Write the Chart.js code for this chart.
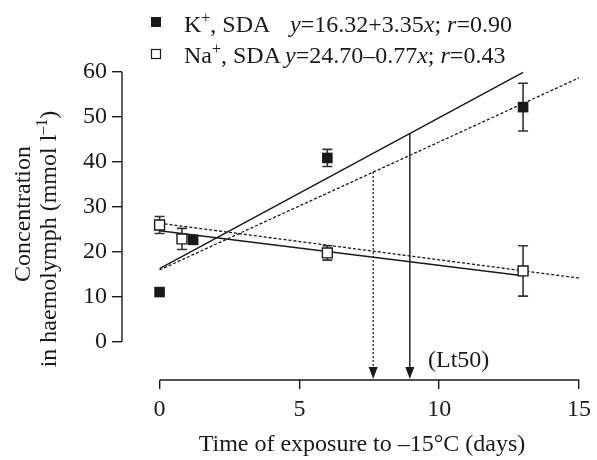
<!DOCTYPE html>
<html>
<head>
<meta charset="utf-8">
<script src="https://cdn.jsdelivr.net/npm/chart.js@4.4.0/dist/chart.umd.min.js"></script>
<style>
  html, body { margin: 0; padding: 0; background: #fff; }
  #wrap { width: 597px; height: 460px; position: relative; }
</style>
</head>
<body>
<div id="wrap"><canvas id="ionChart"></canvas></div>
<script>
// data
const kDays = [0, 1.2, 6, 13];
const kMean = [11.1, 22.7, 40.9, 52.2];
const kErr = [0, 0, 1.9, 5.3];

const naDays = [0, 0.8, 6, 13];
const naMean = [26.0, 22.9, 19.8, 15.8];
const naErr = [1.9, 2.35, 1.6, 5.6];

// regression lines (end points)
const kFitX = [0, 13];
const kFitY = [16.3, 59.9];
const kDashX = [0, 15];
const kDashY = [16.0, 58.7];
const naFitX = [0, 13];
const naFitY = [24.7, 14.7];
const naDashX = [0, 15];
const naDashY = [26.4, 14.2];

// Lt50 arrows: day, where it leaves the fit line, dashed?
const arrowDays = [7.64, 8.95];
const arrowTops = [37.8, 46.3];
const arrowDashed = [true, false];

const xTicks = [0, 5, 10, 15];
const yTicks = [0, 10, 20, 30, 40, 50, 60];

const FONT = '"Liberation Serif", "Times New Roman", serif';
const FS = 24;
const SUP = 16;
const INK = '#1a1a1a';

function pts(xs, ys) {
    return xs.map((x, i) => ({ x: x, y: ys[i] }));
}

// text with superscripts / italics
function richWidth(ctx, parts) {
    let w = 0;
    parts.forEach(p => {
        ctx.font = (p.it ? 'italic ' : '') + (p.sup ? SUP : FS) + 'px ' + FONT;
        w += ctx.measureText(p.t).width;
    });
    return w;
}
function drawRich(ctx, x, y, parts) {
    parts.forEach(p => {
        ctx.font = (p.it ? 'italic ' : '') + (p.sup ? SUP : FS) + 'px ' + FONT;
        ctx.fillText(p.t, x, p.sup ? y - 9 : y);
        x += ctx.measureText(p.t).width;
    });
}

const decorPlugin = {
    id: 'decor',
    beforeDatasetsDraw(chart) {
        const ctx = chart.ctx, xs = chart.scales.x, ys = chart.scales.y;
        ctx.save();
        ctx.strokeStyle = '#333';
        ctx.lineWidth = 1.6;
        // error bars
        [[kDays, kMean, kErr], [naDays, naMean, naErr]].forEach(set => {
            set[0].forEach((d, i) => {
                if (!set[2][i]) return;
                const px = xs.getPixelForValue(d);
                const top = ys.getPixelForValue(set[1][i] + set[2][i]);
                const bot = ys.getPixelForValue(set[1][i] - set[2][i]);
                ctx.beginPath();
                ctx.moveTo(px, top); ctx.lineTo(px, bot);
                ctx.moveTo(px - 5, top); ctx.lineTo(px + 5, top);
                ctx.moveTo(px - 5, bot); ctx.lineTo(px + 5, bot);
                ctx.stroke();
            });
        });
        ctx.restore();
    },
    afterDraw(chart) {
        const ctx = chart.ctx, xs = chart.scales.x, ys = chart.scales.y;
        const area = chart.chartArea;
        ctx.save();
        ctx.strokeStyle = INK;
        ctx.fillStyle = INK;
        ctx.lineWidth = 1.4;

        // detached axis lines
        ctx.beginPath();
        ctx.moveTo(xs.getPixelForValue(xTicks[0]), area.bottom);
        ctx.lineTo(xs.getPixelForValue(xTicks[xTicks.length - 1]), area.bottom);
        ctx.moveTo(area.left, ys.getPixelForValue(yTicks[0]));
        ctx.lineTo(area.left, ys.getPixelForValue(yTicks[yTicks.length - 1]));
        ctx.stroke();

        // Lt50 arrows
        arrowDays.forEach((d, i) => {
            const px = xs.getPixelForValue(d);
            const top = ys.getPixelForValue(arrowTops[i]);
            const tip = area.bottom - 1;
            ctx.save();
            ctx.lineWidth = arrowDashed[i] ? 1.2 : 1.4;
            if (arrowDashed[i]) ctx.setLineDash([2, 2]);
            ctx.beginPath();
            ctx.moveTo(px, top);
            ctx.lineTo(px, tip - 10);
            ctx.stroke();
            ctx.restore();
            ctx.beginPath();
            ctx.moveTo(px - 4.5, tip - 12);
            ctx.lineTo(px + 4.5, tip - 12);
            ctx.lineTo(px, tip);
            ctx.closePath();
            ctx.fill();
        });

        ctx.textBaseline = 'alphabetic';
        ctx.textAlign = 'left';
        ctx.font = FS + 'px ' + FONT;
        ctx.fillText('(Lt50)', 428, 367);

        // legend
        ctx.fillRect(151, 17, 10, 10);
        ctx.lineWidth = 1.2;
        ctx.strokeRect(151.5, 49.5, 9, 9);
        drawRich(ctx, 184, 32, [{ t: 'K' }, { t: '+', sup: true }, { t: ', SDA' }]);
        drawRich(ctx, 290, 32, [{ t: 'y', it: true }, { t: '=16.32+3.35' }, { t: 'x', it: true },
            { t: '; ' }, { t: 'r', it: true }, { t: '=0.90' }]);
        drawRich(ctx, 184, 63, [{ t: 'Na' }, { t: '+', sup: true }, { t: ', SDA' }]);
        drawRich(ctx, 285, 63, [{ t: 'y', it: true }, { t: '=24.70\u20130.77' }, { t: 'x', it: true },
            { t: '; ' }, { t: 'r', it: true }, { t: '=0.43' }]);

        // x axis title
        const xt = [{ t: 'Time of exposure to \u201315\u00b0C (days)' }];
        drawRich(ctx, 362 - richWidth(ctx, xt) / 2, 451, xt);

        // y axis title, two lines, rotated
        const l1 = [{ t: 'Concentration' }];
        const l2 = [{ t: 'in haemolymph (mmol l' }, { t: '\u20131', sup: true }, { t: ')' }];
        ctx.save();
        ctx.translate(30, 214);
        ctx.rotate(-Math.PI / 2);
        drawRich(ctx, -richWidth(ctx, l1) / 2, 0, l1);
        ctx.restore();
        ctx.save();
        ctx.translate(56, 239);
        ctx.rotate(-Math.PI / 2);
        drawRich(ctx, -richWidth(ctx, l2) / 2, 0, l2);
        ctx.restore();

        ctx.restore();
    }
};

const lineStyle = (color, dashed) => ({
    showLine: true,
    borderColor: color,
    borderWidth: dashed ? 1.3 : 1.5,
    borderDash: dashed ? [3, 2] : [],
    pointRadius: 0,
    pointHoverRadius: 0,
    fill: false
});

var ctx1 = document.getElementById('ionChart').getContext('2d');
var ionChart = new Chart(ctx1, {
    type: 'scatter',
    data: {
        datasets: [
            {
                label: 'K+, SDA',
                data: pts(kDays, kMean),
                pointStyle: 'rect',
                pointRadius: 7.5,
                backgroundColor: INK,
                borderColor: INK,
                borderWidth: 0
            },
            {
                label: 'Na+, SDA',
                data: pts(naDays, naMean),
                pointStyle: 'rect',
                pointRadius: 7,
                backgroundColor: '#fff',
                borderColor: INK,
                borderWidth: 1.4
            },
            Object.assign({ label: 'K fit', data: pts(kFitX, kFitY) }, lineStyle(INK, false)),
            Object.assign({ label: 'K fit 2', data: pts(kDashX, kDashY) }, lineStyle(INK, true)),
            Object.assign({ label: 'Na fit', data: pts(naFitX, naFitY) }, lineStyle(INK, false)),
            Object.assign({ label: 'Na fit 2', data: pts(naDashX, naDashY) }, lineStyle(INK, true))
        ]
    },
    options: {
        responsive: true,
        maintainAspectRatio: false,
        animation: false,
        clip: false,
        layout: { padding: { top: 72, right: 13, left: 0, bottom: 0 } },
        plugins: {
            legend: { display: false },
            tooltip: { enabled: false }
        },
        scales: {
            x: {
                type: 'linear',
                min: -1.344,
                max: 15,
                afterBuildTicks: s => { s.ticks = xTicks.map(v => ({ value: v })); },
                afterFit: s => { s.height = 80; },
                border: { display: false },
                grid: { drawOnChartArea: false, tickLength: 9, color: INK, lineWidth: 1.4 },
                ticks: { color: INK, padding: 6, maxRotation: 0, font: { family: FONT, size: FS } }
            },
            y: {
                type: 'linear',
                min: -8.44,
                max: 60,
                afterBuildTicks: s => { s.ticks = yTicks.map(v => ({ value: v })); },
                afterFit: s => { s.width = 122; },
                border: { display: false },
                grid: { drawOnChartArea: false, tickLength: 10, color: INK, lineWidth: 1.4 },
                ticks: { color: INK, padding: 5, font: { family: FONT, size: FS } }
            }
        }
    },
    plugins: [decorPlugin]
});
</script>
</body>
</html>
